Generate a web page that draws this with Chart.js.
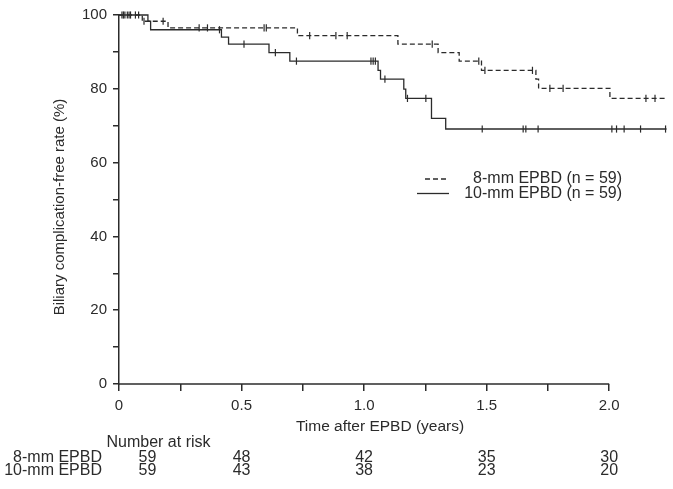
<!DOCTYPE html>
<html><head><meta charset="utf-8">
<script src="https://cdn.jsdelivr.net/npm/chart.js@4/dist/chart.umd.min.js"></script>
<style>html,body{margin:0;padding:0;background:#fff}#wrap{width:673px;height:489px;position:relative}</style>
</head><body><div id="wrap"><canvas id="c" width="673" height="489"></canvas></div>
<script>
const seriesLabels = ['8-mm EPBD (n = 59)', '10-mm EPBD (n = 59)'];
const groupNames = ['8-mm EPBD', '10-mm EPBD'];
const times8 = [0, 0.095, 0.200, 0.728, 1.138, 1.302, 1.388, 1.479, 1.701, 1.712, 2.003, 2.234];
const surv8  = [100, 98.3, 96.5, 94.4, 92.1, 89.8, 87.5, 85.0, 82.6, 80.1, 77.4, 77.4];
const censor8 = [0.012, 0.024, 0.041, 0.067, 0.102, 0.180, 0.327, 0.361, 0.592, 0.601, 0.778, 0.885, 0.931, 1.278, 1.468, 1.493, 1.687, 1.758, 1.812, 2.150, 2.187];
const times10 = [0, 0.118, 0.129, 0.418, 0.447, 0.612, 0.697, 1.057, 1.067, 1.162, 1.170, 1.275, 1.333, 2.234];
const surv10  = [100, 98.3, 96.0, 94.0, 92.1, 89.8, 87.5, 85.0, 82.6, 79.9, 77.4, 72.0, 69.1, 69.1];
const censor10 = [0.018, 0.034, 0.047, 0.080, 0.410, 0.510, 0.638, 0.724, 1.028, 1.037, 1.046, 1.085, 1.177, 1.252, 1.482, 1.649, 1.660, 1.710, 2.011, 2.030, 2.061, 2.128, 2.230];
const riskTimes = [0, 0.5, 1.0, 1.5, 2.0];
const risk8 = [59, 48, 42, 35, 30];
const risk10 = [59, 43, 38, 23, 20];
const xTickLabels = ['0', '0.5', '1.0', '1.5', '2.0'];
const yTickLabels = ['0', '20', '40', '60', '80', '100'];
const xTitle = 'Time after EPBD (years)';
const yTitle = 'Biliary complication-free rate (%)';
const riskTitle = 'Number at risk';

const INK = '#2b2b2b';
const FONT = "'Liberation Sans', Arial, Helvetica, sans-serif";

function survAt(times, surv, t) {
  let v = surv[0];
  for (let i = 0; i < times.length; i++) { if (times[i] <= t) v = surv[i]; }
  return v;
}
function curve(times, surv) { return times.map((t, i) => ({x: t, y: surv[i]})); }
function marks(cens, times, surv) { return cens.map(t => ({x: t, y: survAt(times, surv, t)})); }

const censorStyle = {
  showLine: false, pointStyle: 'line', rotation: 90, pointRadius: 3.6, pointHoverRadius: 3.6,
  pointBorderColor: INK, pointBorderWidth: 1.2, borderColor: INK, clip: false
};

const extras = {
  id: 'extras',
  beforeDatasetsDraw(chart) {
    const ctx = chart.ctx, xs = chart.scales.x, ys = chart.scales.y;
    ctx.save();
    ctx.strokeStyle = INK; ctx.lineWidth = 1.5;
    ctx.beginPath();
    const y0 = ys.getPixelForValue(0);
    ctx.moveTo(xs.getPixelForValue(0) - 0.75, y0);
    ctx.lineTo(xs.getPixelForValue(2.0), y0);
    ctx.stroke();
    ctx.restore();
  },
  afterDraw(chart) {
    const ctx = chart.ctx, xs = chart.scales.x;
    ctx.save();
    ctx.fillStyle = INK;
    ctx.textBaseline = 'middle';
    // y title
    ctx.font = '15px ' + FONT;
    ctx.save();
    ctx.translate(60, 207);
    ctx.rotate(-Math.PI / 2);
    ctx.textAlign = 'center';
    ctx.fillText(yTitle, 0, 0);
    ctx.restore();
    // x title
    ctx.font = '15.5px ' + FONT;
    ctx.textAlign = 'center';
    ctx.fillText(xTitle, 380, 427);
    // legend
    ctx.font = '16px ' + FONT;
    ctx.strokeStyle = INK; ctx.lineWidth = 1.3;
    ctx.setLineDash([5, 3]);
    ctx.beginPath(); ctx.moveTo(425, 179); ctx.lineTo(446, 179); ctx.stroke();
    ctx.setLineDash([]);
    ctx.beginPath(); ctx.moveTo(417, 193.5); ctx.lineTo(449, 193.5); ctx.stroke();
    ctx.textAlign = 'right';
    ctx.fillText(seriesLabels[0], 622, 179);
    ctx.fillText(seriesLabels[1], 622, 193.5);
    // number at risk table
    ctx.textAlign = 'left';
    ctx.fillText(riskTitle, 106.5, 442.7);
    ctx.textAlign = 'right';
    ctx.fillText(groupNames[0], 102, 457.3);
    ctx.fillText(groupNames[1], 102, 470.5);
    ctx.textAlign = 'center';
    riskTimes.forEach((t, i) => {
      let px = xs.getPixelForValue(t);
      if (i === 0) px += 28.5;
      ctx.fillText(String(risk8[i]), px, 457.3);
      ctx.fillText(String(risk10[i]), px, 470.5);
    });
    ctx.restore();
  }
};

new Chart(document.getElementById('c'), {
  type: 'line',
  data: {
    datasets: [
      { label: seriesLabels[0], data: curve(times8, surv8), stepped: true, borderColor: INK, borderWidth: 1.3,
        borderDash: [5, 3], pointRadius: 0, fill: false, clip: false },
      Object.assign({ label: seriesLabels[0] + ' censored', data: marks(censor8, times8, surv8) }, censorStyle),
      { label: seriesLabels[1], data: curve(times10, surv10), stepped: true, borderColor: INK, borderWidth: 1.3,
        pointRadius: 0, fill: false, clip: false },
      Object.assign({ label: seriesLabels[1] + ' censored', data: marks(censor10, times10, surv10) }, censorStyle)
    ]
  },
  options: {
    responsive: false,
    animation: false,
    layout: { padding: { top: 14, right: 5, left: 0, bottom: 0 } },
    plugins: { legend: { display: false }, tooltip: { enabled: false } },
    scales: {
      x: {
        type: 'linear', min: 0, max: 2.24,
        ticks: {
          stepSize: 0.25, includeBounds: false, autoSkip: false, maxRotation: 0, padding: 6,
          color: INK, font: { family: FONT, size: 15 },
          callback: (v) => {
            const k = Math.round(v * 2);
            return Math.abs(v * 2 - k) < 1e-6 ? (xTickLabels[k] || '') : '';
          }
        },
        grid: { drawOnChartArea: false, drawTicks: true, tickLength: 7, color: INK, lineWidth: 1.5 },
        border: { display: false },
        afterFit: (s) => { s.height = 105; }
      },
      y: {
        min: 0, max: 100,
        ticks: {
          stepSize: 10, padding: 6, color: INK, font: { family: FONT, size: 15 },
          callback: (v) => (Math.round(v) % 20 === 0 ? yTickLabels[Math.round(v) / 20] : '')
        },
        grid: { drawOnChartArea: false, drawTicks: true, tickLength: 6, color: INK, lineWidth: 1.5 },
        border: { display: true, color: INK, width: 1.5 },
        afterFit: (s) => { s.width = 119; }
      }
    }
  },
  plugins: [extras]
});
</script>
</body></html>
